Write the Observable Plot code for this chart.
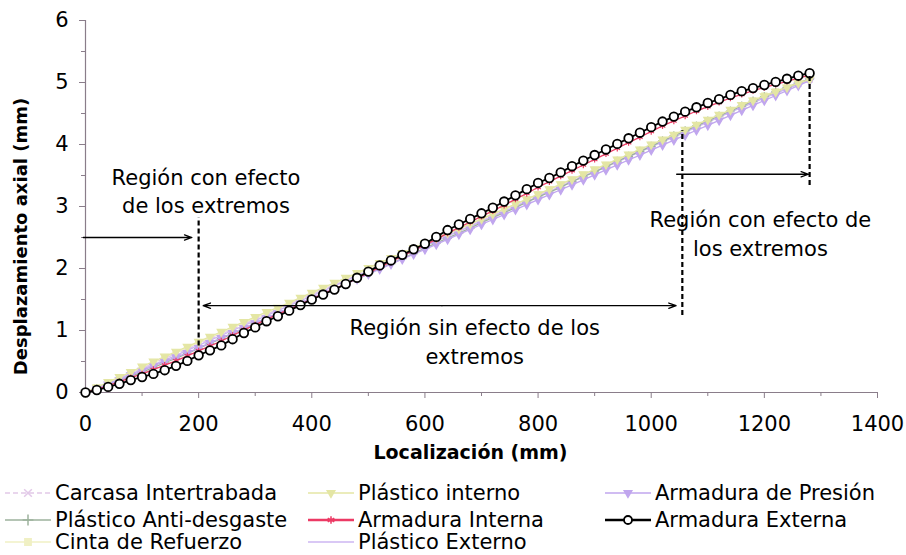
<!DOCTYPE html>
<html><head><meta charset="utf-8">
<script src="https://cdn.jsdelivr.net/npm/d3@7"></script>
<script src="https://cdn.jsdelivr.net/npm/@observablehq/plot@0.6"></script>
<style>
body{margin:0;background:#fff;font-family:"DejaVu Sans",sans-serif;}
#wrap{position:relative;width:906px;height:555px;overflow:hidden;}
#legend{position:absolute;left:0;top:470px;width:906px;height:85px;}
.item{position:absolute;height:22px;display:flex;align-items:center;font-size:21px;color:#000;white-space:nowrap;line-height:22px;}
.item svg{margin-right:4px;}
</style></head><body><div id="wrap"><div id="chart"></div><div id="legend"></div></div>
<script>
// ---- data ----
const locations = [
  0,20,40,60,80, 100,120,140,160,180, 200,220,240,260,280, 300,320,340,360,380,
  400,420,440,460,480, 500,520,540,560,580, 600,620,640,660,680, 700,720,740,760,780,
  800,820,840,860,880, 900,920,940,960,980, 1000,1020,1040,1060,1080, 1100,1120,1140,1160,1180,
  1200,1220,1240,1260,1280];

const carcasaIntertrabada = [
  0.00,0.07,0.15,0.23,0.31, 0.39,0.47,0.55,0.62,0.70, 0.78,0.86,0.94,1.02,1.10, 1.18,1.26,1.34,1.42,1.50,
  1.58,1.66,1.73,1.81,1.89, 1.97,2.05,2.13,2.21,2.29, 2.37,2.45,2.53,2.61,2.69, 2.77,2.85,2.93,3.01,3.09,
  3.17,3.25,3.33,3.41,3.49, 3.57,3.65,3.73,3.81,3.89, 3.97,4.05,4.13,4.21,4.29, 4.37,4.45,4.53,4.61,4.69,
  4.76,4.84,4.91,4.98,5.05];
const plasticoAntiDesgaste = [
  0.00,0.06,0.12,0.19,0.26, 0.33,0.40,0.48,0.55,0.63, 0.71,0.79,0.87,0.95,1.03, 1.11,1.19,1.27,1.35,1.43,
  1.51,1.59,1.67,1.75,1.83, 1.92,2.00,2.08,2.16,2.24, 2.33,2.41,2.49,2.57,2.65, 2.74,2.82,2.90,2.98,3.07,
  3.15,3.23,3.31,3.40,3.48, 3.56,3.64,3.73,3.81,3.89, 3.97,4.06,4.14,4.22,4.30, 4.38,4.46,4.54,4.62,4.70,
  4.77,4.85,4.92,4.99,5.06];
const cintaRefuerzo = [
  0.00,0.08,0.16,0.24,0.32, 0.40,0.48,0.56,0.64,0.72, 0.80,0.88,0.96,1.04,1.12, 1.20,1.27,1.35,1.43,1.51,
  1.59,1.67,1.75,1.83,1.91, 1.99,2.07,2.15,2.23,2.31, 2.39,2.47,2.55,2.63,2.71, 2.79,2.87,2.95,3.03,3.11,
  3.19,3.27,3.35,3.43,3.51, 3.59,3.67,3.75,3.83,3.91, 3.99,4.07,4.15,4.23,4.31, 4.39,4.47,4.55,4.63,4.71,
  4.79,4.86,4.93,5.00,5.06];
const plasticoInterno = [
  0.00,0.08,0.17,0.25,0.33, 0.42,0.50,0.58,0.66,0.74, 0.82,0.90,0.98,1.06,1.14, 1.22,1.30,1.37,1.45,1.53,
  1.61,1.69,1.77,1.85,1.93, 2.01,2.09,2.17,2.25,2.33, 2.41,2.49,2.57,2.64,2.72, 2.80,2.88,2.96,3.04,3.12,
  3.20,3.28,3.36,3.44,3.52, 3.60,3.68,3.76,3.84,3.92, 4.00,4.08,4.16,4.24,4.32, 4.40,4.48,4.56,4.64,4.71,
  4.78,4.85,4.92,4.99,5.05];
const armaduraInterna = [
  0.00,0.05,0.11,0.17,0.24, 0.30,0.37,0.44,0.51,0.59, 0.67,0.75,0.83,0.92,1.01, 1.09,1.18,1.26,1.34,1.42,
  1.51,1.59,1.67,1.75,1.84, 1.93,2.02,2.11,2.20,2.29, 2.38,2.47,2.57,2.66,2.75, 2.84,2.93,3.02,3.12,3.21,
  3.31,3.40,3.49,3.58,3.67, 3.76,3.85,3.94,4.03,4.12, 4.21,4.30,4.38,4.46,4.54, 4.61,4.68,4.75,4.81,4.87,
  4.92,4.97,5.02,5.07,5.12];
const plasticoExterno = [
  0.00,0.07,0.14,0.22,0.30, 0.37,0.45,0.52,0.60,0.68, 0.76,0.84,0.92,1.00,1.08, 1.16,1.24,1.32,1.40,1.48,
  1.56,1.64,1.72,1.80,1.88, 1.96,2.04,2.12,2.20,2.28, 2.36,2.44,2.52,2.60,2.68, 2.76,2.84,2.92,3.00,3.08,
  3.16,3.24,3.32,3.40,3.48, 3.56,3.64,3.72,3.80,3.88, 3.96,4.04,4.12,4.20,4.28, 4.36,4.44,4.52,4.60,4.67,
  4.75,4.82,4.90,4.97,5.04];
const armaduraPresion = [
  0.00,0.06,0.13,0.20,0.28, 0.35,0.43,0.50,0.57,0.64, 0.72,0.80,0.88,0.96,1.04, 1.12,1.20,1.28,1.36,1.44,
  1.52,1.60,1.67,1.75,1.83, 1.91,1.99,2.07,2.15,2.23, 2.31,2.39,2.47,2.55,2.63, 2.71,2.79,2.87,2.95,3.03,
  3.11,3.19,3.27,3.35,3.43, 3.51,3.59,3.67,3.75,3.83, 3.91,3.99,4.07,4.15,4.23, 4.31,4.39,4.47,4.55,4.63,
  4.71,4.79,4.87,4.95,5.03];
const armaduraExterna = [
  0.00,0.04,0.09,0.14,0.20, 0.25,0.30,0.36,0.43,0.51, 0.60,0.68,0.76,0.86,0.96, 1.05,1.15,1.23,1.32,1.41,
  1.50,1.58,1.66,1.75,1.85, 1.95,2.05,2.13,2.22,2.31, 2.40,2.51,2.62,2.71,2.80, 2.89,2.98,3.08,3.18,3.28,
  3.38,3.46,3.55,3.65,3.74, 3.83,3.92,4.01,4.10,4.19, 4.28,4.37,4.45,4.53,4.60, 4.67,4.73,4.80,4.86,4.91,
  4.96,5.01,5.06,5.11,5.15];

const xTicks = [0,200,400,600,800,1000,1200,1400];
const xMinorTicks = [100,300,500,700,900,1100,1300];
const yTicks = [0,1,2,3,4,5,6];
const yMinorTicks = [0.5,1.5,2.5,3.5,4.5,5.5];

const xLabel = "Localización (mm)";
const yLabel = "Desplazamiento axial (mm)";

const regionTexts = [
  {x: 213, y: 3.27, text: "Región con efecto\nde los extremos"},
  {x: 688, y: 0.84, text: "Región sin efecto de los\nextremos"},
  {x: 1193, y: 2.58, text: "Región con efecto de\nlos extremos"}
];
const regionBounds = [
  {x: 200, y1: 0.75, y2: 2.82},
  {x: 1055, y1: 1.24, y2: 4.22},
  {x: 1280, y1: 3.34, y2: 5.10}
];
const regionArrows = [
  {x1: -4, y1: 2.5, x2: 188, y2: 2.5},
  {x1: 630, y1: 1.4, x2: 208, y2: 1.4},
  {x1: 630, y1: 1.4, x2: 1044, y2: 1.4},
  {x1: 1045, y1: 3.52, x2: 1278, y2: 3.52}
];

// series definitions (name, values, style)
const seriesDefs = [
  {name: "Cinta de Refuerzo", values: cintaRefuerzo, color: "#f0f0c4", symbol: "square", dash: null, rot: 0},
  {name: "Carcasa Intertrabada", values: carcasaIntertrabada, color: "#e2c9e8", symbol: "times", dash: "5,3", rot: 0},
  {name: "Plástico Externo", values: plasticoExterno, color: "#cdb6f2", symbol: null, dash: null, rot: 0},
  {name: "Plástico Anti-desgaste", values: plasticoAntiDesgaste, color: "#9db29d", symbol: "plus", dash: null, rot: 0},
  {name: "Armadura de Presión", values: armaduraPresion, color: "#c0a6ee", symbol: "triangle", dash: null, rot: 180},
  {name: "Plástico interno", values: plasticoInterno, color: "#e4e6a4", symbol: "triangle", dash: null, rot: 180},
  {name: "Armadura Interna", values: armaduraInterna, color: "#ec3a64", symbol: "asterisk", dash: null, rot: 0},
  {name: "Armadura Externa", values: armaduraExterna, color: "#000000", symbol: "circle", dash: null, rot: 0}
];

const axisColor = "#8a7d8a";
const marks = [];

// axes
marks.push(Plot.ruleY([0], {stroke: axisColor, strokeWidth: 1.2}));
marks.push(Plot.ruleX([0], {stroke: axisColor, strokeWidth: 1.2}));
marks.push(Plot.axisX(xTicks, {tickSize: 6, tickPadding: 18, stroke: axisColor, fontSize: 21, label: null, tickFormat: d => String(d)}));
marks.push(Plot.axisX(xMinorTicks, {tickSize: 4, text: null, stroke: axisColor, label: null}));
marks.push(Plot.axisY(yTicks, {tickSize: 6, tickPadding: 11, stroke: axisColor, fontSize: 21, label: null, tickFormat: d => String(d)}));
marks.push(Plot.axisY(yMinorTicks, {tickSize: 4, text: null, stroke: axisColor, label: null}));

// series
for (const s of seriesDefs) {
  const rows = locations.map((x, i) => ({x, y: s.values[i]}));
  const isBlack = s.name === "Armadura Externa";
  marks.push(Plot.line(rows, {x: "x", y: "y", stroke: s.color, strokeWidth: isBlack ? 1.8 : 1.3,
    strokeDasharray: s.dash || undefined}));
  if (s.symbol) {
    if (isBlack) {
      marks.push(Plot.dot(rows, {x: "x", y: "y", r: 4.3, fill: "white", stroke: "black", strokeWidth: 1.8}));
    } else {
      marks.push(Plot.dot(rows, {x: "x", y: "y", symbol: () => s.symbol, r: 3, stroke: s.color,
        fill: s.symbol === "triangle" || s.symbol === "square" ? s.color : "none", strokeWidth: 1.2, rotate: s.rot}));
    }
  }
}

// annotations
marks.push(Plot.ruleX(regionBounds, {x: "x", y1: "y1", y2: "y2", stroke: "black", strokeWidth: 2.2, strokeDasharray: "5,3"}));
marks.push(Plot.arrow(regionArrows, {x1: "x1", y1: "y1", x2: "x2", y2: "y2", stroke: "black", strokeWidth: 1.3, headLength: 9, headAngle: 40}));
marks.push(Plot.text(regionTexts, {x: "x", y: "y", text: "text", fontSize: 21, lineHeight: 1.35, fill: "black"}));

// axis titles
marks.push(Plot.text([xLabel], {frameAnchor: "bottom", text: d => d, dy: 66, dx: -11, fontSize: 19, fontWeight: "bold", fill: "black", textAnchor: "middle"}));
marks.push(Plot.text([yLabel], {frameAnchor: "left", text: d => d, rotate: -90, dx: -64, dy: 30, fontSize: 18, fontWeight: "bold", fill: "black", textAnchor: "middle"}));

const chart = Plot.plot({
  width: 906,
  height: 470,
  marginLeft: 85,
  marginRight: 29,
  marginTop: 20,
  marginBottom: 78,
  x: {domain: [0, 1400]},
  y: {domain: [0, 6]},
  style: {fontFamily: "DejaVu Sans, sans-serif", fontSize: "21px", color: "black", background: "white", overflow: "visible"},
  marks
});
document.getElementById("chart").appendChild(chart);

// legend
const legendLayout = {
  "Carcasa Intertrabada": [5, 12],
  "Plástico interno": [308, 12],
  "Armadura de Presión": [605, 12],
  "Plástico Anti-desgaste": [5, 39],
  "Armadura Interna": [308, 39],
  "Armadura Externa": [605, 39],
  "Cinta de Refuerzo": [5, 61],
  "Plástico Externo": [308, 61]
};
const legend = document.getElementById("legend");
for (const s of seriesDefs) {
  const [lx, ly] = legendLayout[s.name];
  const div = document.createElement("div");
  div.className = "item";
  div.style.left = lx + "px";
  div.style.top = ly + "px";
  const svg = d3.create("svg").attr("width", 46).attr("height", 20);
  svg.append("line").attr("x1", 0).attr("x2", 46).attr("y1", 10).attr("y2", 10)
    .attr("stroke", s.color).attr("stroke-width", s.name === "Armadura Externa" || s.name === "Armadura Interna" ? 2.6 : 1.6)
    .attr("stroke-dasharray", s.dash);
  if (s.symbol === "circle") {
    svg.append("circle").attr("cx", 23).attr("cy", 10).attr("r", 4).attr("fill", "white").attr("stroke", "black").attr("stroke-width", 1.8);
  } else if (s.symbol) {
    svg.append("path").attr("transform", `translate(23,10) rotate(${s.rot})`)
      .attr("d", d3.symbol(({plus: d3.symbolPlus, times: d3.symbolTimes, asterisk: d3.symbolAsterisk, triangle: d3.symbolTriangle2, square: d3.symbolSquare})[s.symbol], 40)())
      .attr("fill", s.symbol === "triangle" || s.symbol === "square" ? s.color : "none")
      .attr("stroke", s.color).attr("stroke-width", 1.5);
  }
  div.appendChild(svg.node());
  const span = document.createElement("span");
  span.textContent = s.name;
  div.appendChild(span);
  legend.appendChild(div);
}
</script></body></html>
